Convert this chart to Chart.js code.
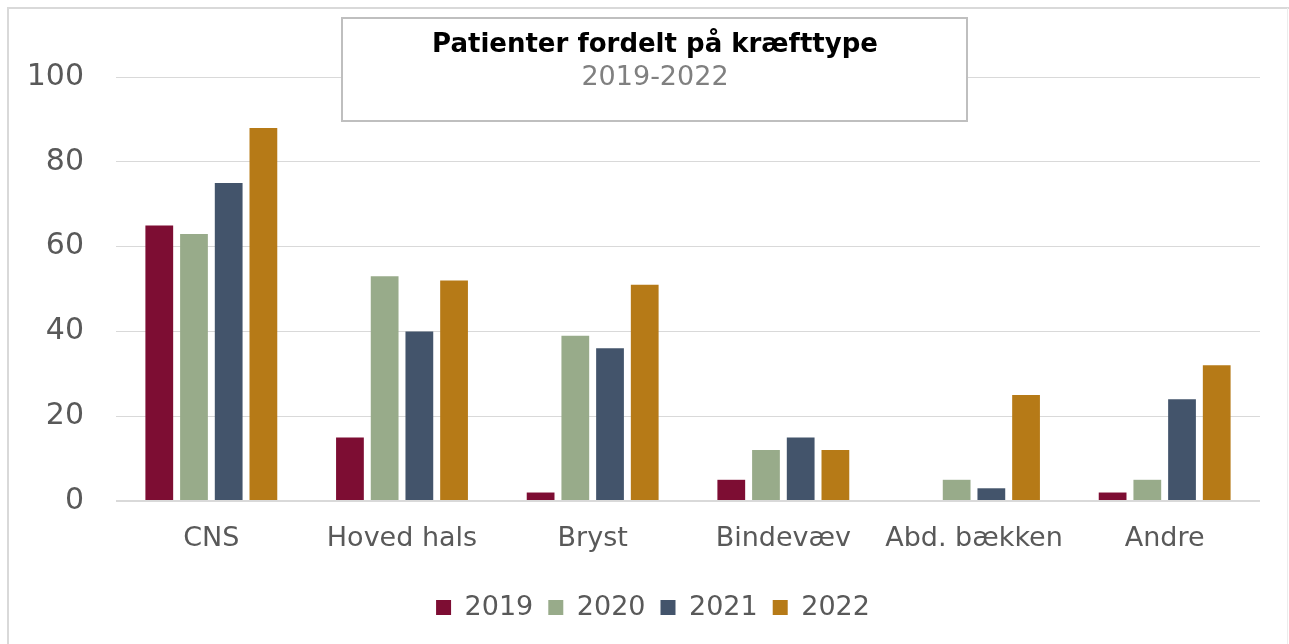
<!DOCTYPE html>
<html>
<head>
<meta charset="utf-8">
<script src="https://cdn.jsdelivr.net/npm/chart.js@4"></script>
<style>
  html, body { margin: 0; padding: 0; background: #fff; }
  #wrap { position: relative; width: 1289px; height: 644px; }
</style>
</head>
<body>
<div id="wrap"><canvas id="kraeft_chart" width="1289" height="644"></canvas></div>
<script>
// data
var categories = ['CNS', 'Hoved hals', 'Bryst', 'Bindevæv', 'Abd. bækken', 'Andre']
var years = ['2019', '2020', '2021', '2022']
var values2019 = [65, 15, 2, 5, 0, 2]
var values2020 = [63, 53, 39, 12, 5, 5]
var values2021 = [75, 40, 36, 15, 3, 24]
var values2022 = [88, 52, 51, 12, 25, 32]
var yTicks = [0, 20, 40, 60, 80, 100]

var bar_colors = ['#7D0D33', '#98AB8A', '#43546B', '#B67A17']
var title_text = 'Patienter fordelt på kræfttype'
var subtitle_text = '2019-2022'

var font_name = "'DejaVu Sans', Verdana, sans-serif"

// frame round the whole chart + the title box sitting on top of the plot
var framePlugin = {
  id: 'frame',
  afterLayout: function(chart) {
    // legend sits a bit right of centre in the original
    if (chart.legend) {
      chart.legend.left += 23
      chart.legend.right += 23
    }
  },
  beforeDraw: function(chart) {
    var ctx = chart.ctx
    ctx.save()
    ctx.fillStyle = '#ffffff'
    ctx.fillRect(0, 0, chart.width, chart.height)
    ctx.strokeStyle = '#d9d9d9'
    ctx.lineWidth = 2
    ctx.beginPath()
    ctx.moveTo(8, chart.height)
    ctx.lineTo(8, 8)
    ctx.lineTo(chart.width, 8)
    ctx.stroke()
    ctx.strokeStyle = '#ececec'
    ctx.lineWidth = 1
    ctx.beginPath()
    ctx.moveTo(chart.width - 1.5, 8)
    ctx.lineTo(chart.width - 1.5, chart.height)
    ctx.stroke()
    ctx.restore()
  },
  afterDatasetsDraw: function(chart) {
    var ctx = chart.ctx
    ctx.save()
    ctx.fillStyle = '#ffffff'
    ctx.fillRect(341, 17, 627, 105)
    ctx.strokeStyle = '#bfbfbf'
    ctx.lineWidth = 2
    ctx.strokeRect(342, 18, 625, 103)
    ctx.textAlign = 'center'
    ctx.textBaseline = 'middle'
    ctx.fillStyle = '#000000'
    ctx.font = 'bold 26px ' + font_name
    ctx.fillText(title_text, 655, 45)
    ctx.fillStyle = '#808080'
    ctx.font = '27px ' + font_name
    ctx.fillText(subtitle_text, 655, 78)
    ctx.restore()
  }
}

var datasets = []
var allValues = [values2019, values2020, values2021, values2022]
for (let i = 0; i < years.length; i++) {
  datasets.push({
    label: years[i],
    data: allValues[i],
    backgroundColor: bar_colors[i],
    borderWidth: 0,
    categoryPercentage: 0.728,
    barPercentage: 0.8
  })
}

var chart_element = document.getElementById('kraeft_chart').getContext('2d')
var myChart = new Chart(chart_element, {
  type: 'bar',
  data: { labels: categories, datasets: datasets },
  plugins: [framePlugin],
  options: {
    responsive: false,
    animation: false,
    layout: { padding: { left: 0, right: 29, top: 77, bottom: 13 } },
    plugins: {
      legend: {
        position: 'bottom',
        labels: {
          color: '#595959',
          font: { family: font_name, size: 27 },
          boxWidth: 15,
          boxHeight: 15,
          padding: 15
        }
      },
      tooltip: { enabled: false }
    },
    scales: {
      x: {
        grid: { display: false, drawTicks: false },
        border: { display: false },
        ticks: {
          color: '#595959',
          font: { family: font_name, size: 27 },
          padding: 22
        },
        afterFit: function(scale) { scale.height = 78 }
      },
      y: {
        min: 0,
        max: 100,
        afterBuildTicks: function(scale) {
          scale.ticks = yTicks.map(function(v) { return { value: v } })
        },
        grid: {
          color: '#d9d9d9',
          lineWidth: function(c) { return c.tick && c.tick.value === 0 ? 2 : 1 },
          drawTicks: false
        },
        border: { display: false },
        ticks: {
          color: '#595959',
          font: { family: font_name, size: 30 },
          padding: 32
        },
        afterFit: function(scale) { scale.width = 116 }
      }
    }
  }
})
</script>
</body>
</html>
